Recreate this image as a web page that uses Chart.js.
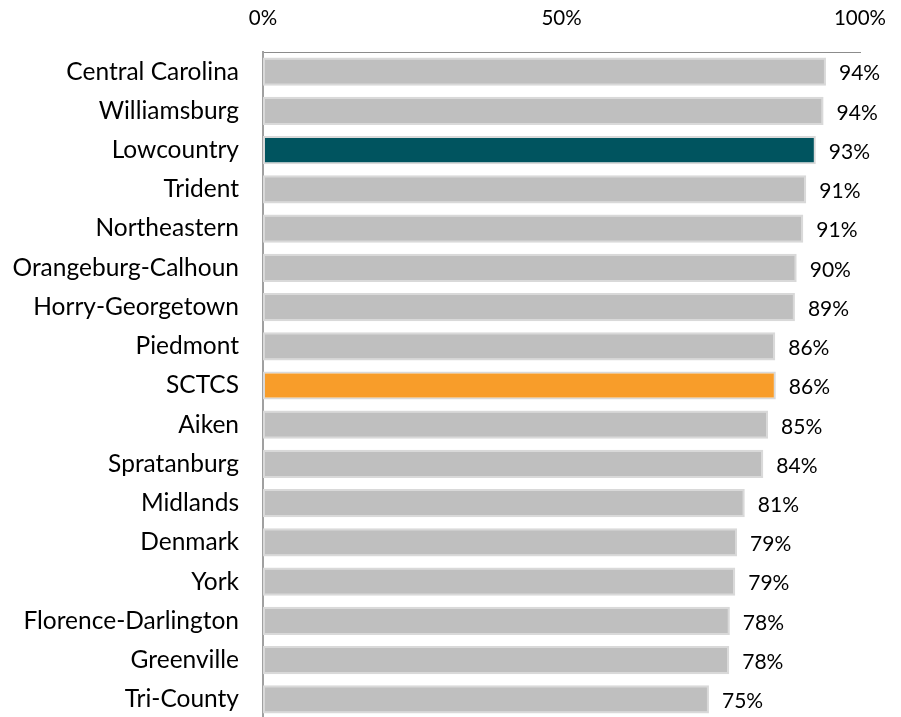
<!DOCTYPE html>
<html>
<head>
<meta charset="utf-8">
<script src="https://cdn.jsdelivr.net/npm/chart.js@4/dist/chart.umd.min.js"></script>
<style>
  html, body { margin: 0; padding: 0; background: #fff; overflow: hidden; }
  #wrap { width: 901px; height: 719px; position: relative; }
</style>
</head>
<body>
<div id="wrap"><canvas id="barChart"></canvas></div>
<script>
const colleges = ['Central Carolina', 'Williamsburg', 'Lowcountry', 'Trident', 'Northeastern',
    'Orangeburg-Calhoun', 'Horry-Georgetown', 'Piedmont', 'SCTCS', 'Aiken', 'Spratanburg',
    'Midlands', 'Denmark', 'York', 'Florence-Darlington', 'Greenville', 'Tri-County'];
const rates = [94.3, 93.9, 92.6, 91.0, 90.5, 89.4, 89.1, 85.8, 85.9, 84.6, 83.8, 80.7, 79.4, 79.1, 78.2, 78.1, 74.7];
const rateLabels = ['94%', '94%', '93%', '91%', '91%', '90%', '89%', '86%', '86%', '85%', '84%',
    '81%', '79%', '79%', '78%', '78%', '75%'];
const xTicks = [0, 50, 100];

const barColors = colleges.map(function(c) {
    if (c === 'Lowcountry') return '#00545f';
    if (c === 'SCTCS') return '#f89d2a';
    return '#bfbfbf';
});

const fontFamily = 'Lato, "Open Sans", sans-serif';

const valueLabels = {
    id: 'valueLabels',
    afterDatasetsDraw(chart) {
        const ctx = chart.ctx;
        const meta = chart.getDatasetMeta(0);
        ctx.save();
        ctx.font = '21px ' + fontFamily;
        ctx.fillStyle = '#000';
        ctx.textAlign = 'left';
        ctx.textBaseline = 'middle';
        meta.data.forEach((bar, i) => {
            ctx.fillText(rateLabels[i], bar.x + 13, bar.y + 2);
        });
        ctx.restore();
    }
};

const ctx = document.getElementById('barChart').getContext('2d');
const chart = new Chart(ctx, {
    type: 'bar',
    data: {
        labels: colleges,
        datasets: [{
            data: rates,
            backgroundColor: barColors,
            borderColor: '#d9d9d9',
            borderWidth: 2,
            borderSkipped: false,
            categoryPercentage: 1,
            barPercentage: 0.72
        }]
    },
    options: {
        indexAxis: 'y',
        responsive: true,
        maintainAspectRatio: false,
        animation: false,
        layout: { padding: { left: 0, right: 41, top: 0, bottom: 0 } },
        plugins: {
            legend: { display: false },
            tooltip: { enabled: false }
        },
        scales: {
            x: {
                position: 'top',
                min: 0,
                max: 100,
                afterFit: function(s) { s.height = 52; s.paddingLeft = 0; s.paddingRight = 0; },
                afterBuildTicks: function(s) { s.ticks = xTicks.map(v => ({ value: v })); },
                grid: { display: false, drawTicks: false },
                border: { display: true, color: '#8c8c8c', width: 1 },
                ticks: {
                    padding: 21,
                    color: '#000',
                    font: { size: 20.5, family: fontFamily },
                    callback: function(v) { return v + '%'; }
                }
            },
            y: {
                afterFit: function(s) { s.width = 263; s.paddingTop = 0; s.paddingBottom = 0; },
                grid: { display: false, drawTicks: false },
                border: { display: true, color: '#a0a0a0', width: 2 },
                ticks: {
                    padding: 24,
                    color: '#000',
                    font: { size: 24.5, family: fontFamily }
                }
            }
        }
    },
    plugins: [valueLabels]
});
</script>
</body>
</html>
